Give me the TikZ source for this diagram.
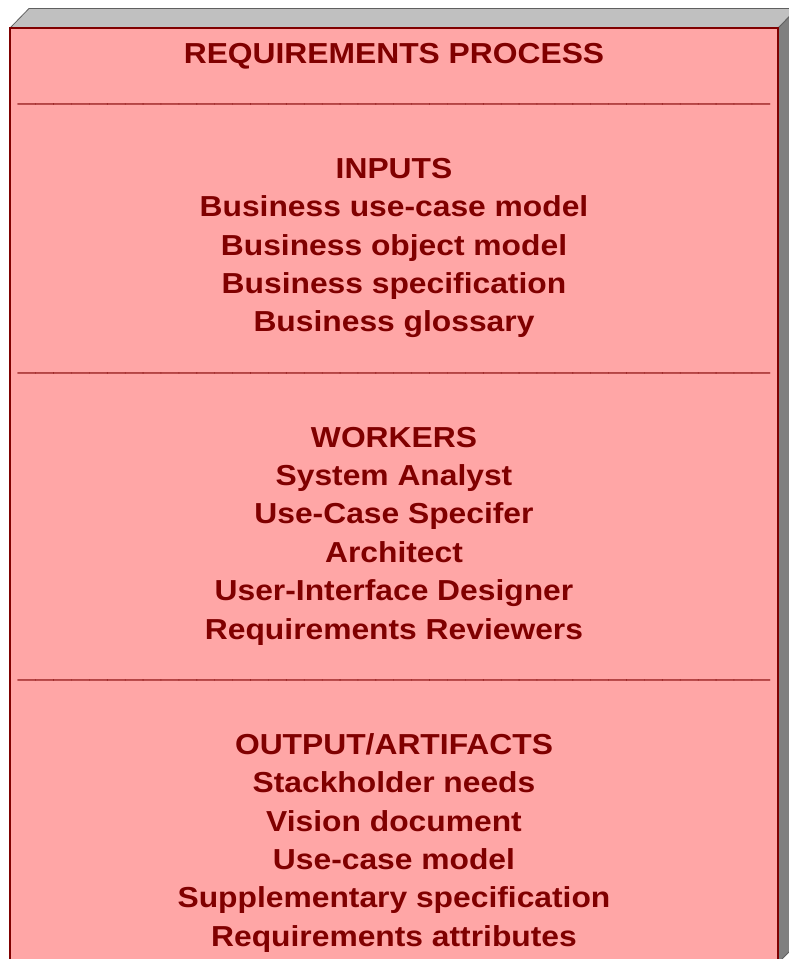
\documentclass[tikz,border=0pt]{standalone}
\usepackage{fontspec}
\setmainfont{Liberation Sans}[FakeStretch=1.1]
\definecolor{frontfill}{HTML}{FFA6A6}
\definecolor{darkred}{HTML}{800000}
\definecolor{topgray}{HTML}{C0C0C0}
\definecolor{sidegray}{HTML}{808080}
\definecolor{edgegray}{HTML}{606060}
\newcommand{\sepline}{\scalebox{1.013}[1]{\_\_\_\_\_\_\_\_\_\_\_\_\_\_\_\_\_\_\_\_\_\_\_\_\_\_\_\_\_\_\_\_\_\_\_\_\_\_\_\_\_\_}}
\begin{document}
\begin{tikzpicture}[x=1pt,y=-1pt,
  lbl/.style={text=darkred, font=\fontsize{28.9pt}{38.4pt}\selectfont\bfseries, anchor=base, inner sep=0pt},
  face/.style={draw=edgegray, line width=0.8pt, line join=miter}]
\useasboundingbox (0,0) rectangle (789,959);
\clip (0,0) rectangle (789,959);
% side face
\draw[face, fill=sidegray] (778,28) -- (797,9) -- (797,944) -- (778,963) -- cycle;
% top face
\draw[face, fill=topgray] (10,28) -- (29,8.5) -- (797,8.5) -- (778,28) -- cycle;
% front face
\draw[fill=frontfill, draw=darkred, line width=1.6pt] (10,28) rectangle (778,963);
% text lines
\foreach \i/\t in {0/{REQUIREMENTS PROCESS},
  3/{INPUTS}, 4/{Business use-case model}, 5/{Business object model}, 6/{Business specification}, 7/{Business glossary},
  10/{WORKERS}, 11/{System Analyst}, 12/{Use-Case Specifer}, 13/{Architect}, 14/{User-Interface Designer}, 15/{Requirements Reviewers},
  18/{OUTPUT/ARTIFACTS}, 19/{Stackholder needs}, 20/{Vision document}, 21/{Use-case model}, 22/{Supplementary specification}, 23/{Requirements attributes}}
  \node[lbl] (l\i) at (394, 63+38.4*\i) {\t};
\foreach \i in {1,8,16}
  \node[lbl] (l\i) at (394, 63+38.4*\i) {\sepline};
\end{tikzpicture}
\end{document}
